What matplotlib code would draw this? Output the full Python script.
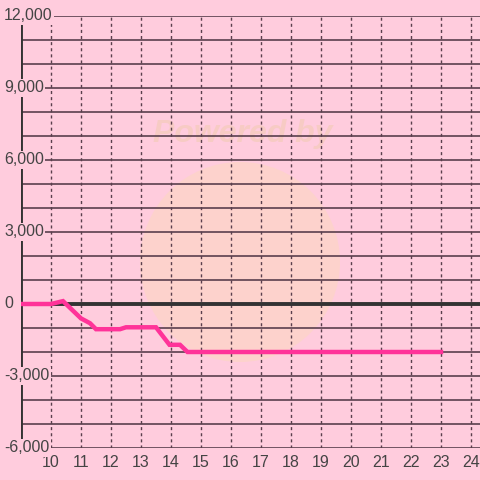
import matplotlib.pyplot as plt
import numpy as np
from matplotlib.patches import Circle
from matplotlib.transforms import blended_transform_factory

plt.rcParams['font.family'] = ['Liberation Sans', 'DejaVu Sans']

# balance over time (hours)
hours = [9, 10, 10.4, 11.0, 11.3, 11.5, 12.3, 12.5, 13.5, 13.95, 14.3, 14.55, 23]
balance = [0, 0, 120, -600, -800, -1050, -1050, -970, -970, -1700, -1700, -2000, -2000]

x_ticks = list(range(10, 25))
y_labels = [12000, 9000, 6000, 3000, 0, -3000, -6000]

bg = '#ffccdd'
fig = plt.figure(figsize=(4.8, 4.8), dpi=100, facecolor=bg)
ax = fig.add_axes([21/480, 32/480, 459/480, 432/480])
ax.set_facecolor(bg)
ax.set_xlim(9, 24.3)
ax.set_ylim(-6000, 12000)
for s in ax.spines.values():
    s.set_visible(False)

# watermark
ax.add_patch(Circle((240/480, 1 - 262/480), 100/480, transform=fig.transFigure,
                    color='#fdd4c9', alpha=0.85, zorder=0.5, lw=0))
ax.text(243/480, 1 - 134/480, 'Powered by', transform=fig.transFigure,
        ha='center', va='center', fontsize=23, fontweight='bold', style='italic',
        color='#f7cbc4', zorder=0.6)

ax.set_yticks(np.arange(-6000, 12001, 1000))
ax.set_yticklabels([])
ax.set_xticks(x_ticks)
ax.set_xticklabels([str(t) for t in x_ticks], fontsize=11.5, color='#444444')
ax.tick_params(length=0, pad=5)
ax.grid(axis='y', color='#5a3f4d', lw=1.2)
ax.grid(axis='x', color='#5a3f4d', lw=1.0, ls=(0, (2.2, 2.2)))

ax.axhline(0, color='#333333', lw=2.8, zorder=2)
ax.axvline(9, color='#333333', lw=2.8, zorder=2)

ax.plot(hours, balance, color='#ff3399', lw=3.2, zorder=3, solid_joinstyle='miter')

lab_tr = blended_transform_factory(fig.transFigure, ax.transData)
for v in y_labels:
    ax.text(4/480, v, f'{v:,}', transform=lab_tr,
            ha='left', va='center', fontsize=11.5, color='#444444', zorder=4,
            bbox=dict(facecolor=bg, edgecolor='none', pad=1.0))

fig.savefig('out.png', dpi=100, facecolor=bg)
